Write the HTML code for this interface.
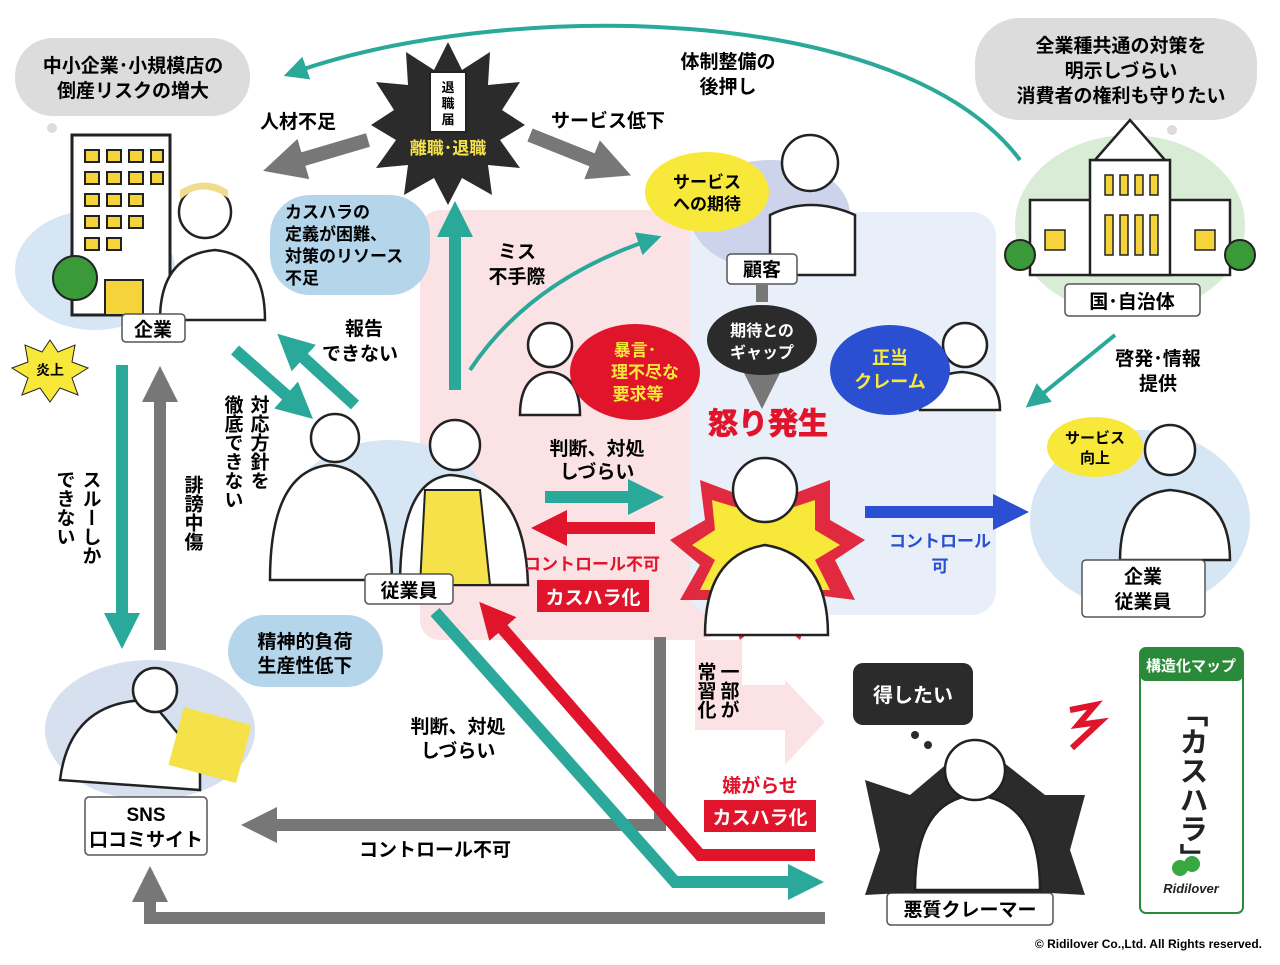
<!DOCTYPE html>
<html><head><meta charset="utf-8"><style>
body{margin:0;background:#fff}
svg text{font-family:"Liberation Sans","Noto Sans CJK JP",sans-serif;font-weight:bold}
</style></head><body>
<svg width="1280" height="960" viewBox="0 0 1280 960" xmlns="http://www.w3.org/2000/svg">
<defs>
<marker id="ag" markerWidth="3" markerHeight="3" refX="1" refY="1.5" orient="auto" markerUnits="strokeWidth"><path d="M0,0L3,1.5L0,3z" fill="#777"/></marker>
<marker id="at" markerWidth="3" markerHeight="3" refX="1" refY="1.5" orient="auto" markerUnits="strokeWidth"><path d="M0,0L3,1.5L0,3z" fill="#2aa89a"/></marker>
<marker id="ar" markerWidth="3" markerHeight="3" refX="1" refY="1.5" orient="auto" markerUnits="strokeWidth"><path d="M0,0L3,1.5L0,3z" fill="#e0142a"/></marker>
<marker id="ab" markerWidth="3" markerHeight="3" refX="1" refY="1.5" orient="auto" markerUnits="strokeWidth"><path d="M0,0L3,1.5L0,3z" fill="#2a4fd0"/></marker>
<marker id="at2" markerWidth="6" markerHeight="6" refX="3" refY="3" orient="auto" markerUnits="strokeWidth"><path d="M0,0L6,3L0,6z" fill="#2aa89a"/></marker>
</defs>
<rect x="420" y="210" width="300" height="430" rx="20" fill="#fbe2e5"/>
<rect x="690" y="212" width="306" height="403" rx="24" fill="#e8eff8"/>
<ellipse cx="95" cy="270" rx="80" ry="60" fill="#d6e6f4"/>
<ellipse cx="390" cy="510" rx="100" ry="70" fill="#d6e6f4"/>
<ellipse cx="150" cy="730" rx="105" ry="70" fill="#d6e0ee"/>
<ellipse cx="1130" cy="225" rx="115" ry="90" fill="#d8ecd6"/>
<ellipse cx="1140" cy="520" rx="110" ry="90" fill="#d6e6f4"/>
<ellipse cx="770" cy="215" rx="80" ry="55" fill="#ccd3ea"/>
<rect x="15" y="38" width="235" height="78" rx="38" fill="#dcdcdc"/>
<text x="133" y="72" font-size="19" text-anchor="middle">中小企業･小規模店の</text>
<text x="133" y="97" font-size="19" text-anchor="middle">倒産リスクの増大</text>
<circle cx="52" cy="128" r="5" fill="#dcdcdc"/>
<rect x="975" y="18" width="282" height="102" rx="45" fill="#dcdcdc"/>
<text x="1121" y="52" font-size="19" text-anchor="middle">全業種共通の対策を</text>
<text x="1121" y="77" font-size="19" text-anchor="middle">明示しづらい</text>
<text x="1121" y="102" font-size="19" text-anchor="middle">消費者の権利も守りたい</text>
<circle cx="1172" cy="130" r="5" fill="#dcdcdc"/>
<rect x="270" y="195" width="160" height="100" rx="40" fill="#b5d5ea"/>
<text x="285" y="218" font-size="17">カスハラの</text>
<text x="285" y="240" font-size="17">定義が困難、</text>
<text x="285" y="262" font-size="17">対策のリソース</text>
<text x="285" y="284" font-size="17">不足</text>
<rect x="228" y="615" width="155" height="72" rx="36" fill="#b5d5ea"/>
<text x="305" y="648" font-size="19" text-anchor="middle">精神的負荷</text>
<text x="305" y="672" font-size="19" text-anchor="middle">生産性低下</text>
<path d="M1020,160 C900,0 500,0 295,72" fill="none" stroke="#2aa89a" stroke-width="4" marker-end="url(#at2)"/>
<text x="728" y="68" font-size="19" text-anchor="middle">体制整備の</text>
<text x="728" y="93" font-size="19" text-anchor="middle">後押し</text>
<polygon points="448,42 462,70 490,52 488,85 520,82 502,110 525,125 500,140 520,168 488,165 492,195 462,178 448,205 434,178 404,195 408,165 376,168 396,140 371,125 394,110 376,82 408,85 406,52 434,70" fill="#2b2b2b"/>
<rect x="430" y="72" width="36" height="60" fill="#fff" stroke="#222" stroke-width="2"/>
<text x="448" y="92" font-size="13" text-anchor="middle">退</text>
<text x="448" y="108" font-size="13" text-anchor="middle">職</text>
<text x="448" y="124" font-size="13" text-anchor="middle">届</text>
<text x="448" y="154" font-size="17" text-anchor="middle" fill="#f5e24a">離職･退職</text>
<line x1="368" y1="140" x2="290" y2="163" stroke="#777" stroke-width="14" marker-end="url(#ag)"/>
<text x="298" y="128" font-size="19" text-anchor="middle">人材不足</text>
<line x1="530" y1="135" x2="605" y2="165" stroke="#777" stroke-width="14" marker-end="url(#ag)"/>
<text x="608" y="127" font-size="19" text-anchor="middle">サービス低下</text>
<rect x="72" y="135" width="98" height="180" fill="#fff" stroke="#222" stroke-width="3"/>
<g fill="#f5d33a" stroke="#222" stroke-width="2">
<rect x="85" y="150" width="14" height="12"/><rect x="107" y="150" width="14" height="12"/><rect x="129" y="150" width="14" height="12"/><rect x="151" y="150" width="12" height="12"/>
<rect x="85" y="172" width="14" height="12"/><rect x="107" y="172" width="14" height="12"/><rect x="129" y="172" width="14" height="12"/><rect x="151" y="172" width="12" height="12"/>
<rect x="85" y="194" width="14" height="12"/><rect x="107" y="194" width="14" height="12"/><rect x="129" y="194" width="14" height="12"/>
<rect x="85" y="216" width="14" height="12"/><rect x="107" y="216" width="14" height="12"/><rect x="129" y="216" width="14" height="12"/>
<rect x="85" y="238" width="14" height="12"/><rect x="107" y="238" width="14" height="12"/>
<rect x="105" y="280" width="38" height="35"/>
</g>
<circle cx="75" cy="278" r="22" fill="#3a9a3a" stroke="#222" stroke-width="2"/>
<g fill="#fff" stroke="#222" stroke-width="2.5">
<path d="M160,320 Q160,255 215,250 Q265,255 265,320 Z"/>
<circle cx="205" cy="212" r="26"/>
<path d="M270,580 Q270,470 330,465 Q390,470 392,580 Z"/>
<circle cx="335" cy="438" r="24"/>
<path d="M400,585 Q400,480 450,475 Q525,480 528,585 Z"/>
<circle cx="455" cy="445" r="25"/>
<path d="M770,275 L770,215 Q810,195 855,215 L855,275 Z"/>
<circle cx="810" cy="163" r="28"/>
<path d="M520,415 Q520,375 550,372 Q580,375 580,415 Z"/>
<circle cx="550" cy="345" r="22"/>
<path d="M920,410 Q920,375 962,372 Q1000,375 1000,410 Z"/>
<circle cx="965" cy="345" r="22"/>
<path d="M1120,560 Q1120,495 1170,490 Q1230,495 1230,560 Z"/>
<circle cx="1170" cy="450" r="25"/>
<path d="M60,780 Q70,700 150,700 L200,760 L200,790 Z"/>
<circle cx="155" cy="690" r="22"/>
</g>
<path d="M180,200 Q200,180 228,198 L228,190 Q205,175 180,190Z" fill="#f0dc8c"/>
<path d="M425,490 L480,490 L490,585 L420,585 Z" fill="#f5e24a" stroke="#222" stroke-width="2"/>
<rect x="175" y="715" width="70" height="60" fill="#f5e24a" transform="rotate(15 210 745)"/>
<rect x="1030" y="200" width="200" height="75" fill="#fff" stroke="#222" stroke-width="2.5"/>
<rect x="1090" y="160" width="80" height="115" fill="#fff" stroke="#222" stroke-width="2.5"/>
<path d="M1095,160 L1130,120 L1165,160Z" fill="#fff" stroke="#222" stroke-width="2.5"/>
<g fill="#f5d33a" stroke="#222" stroke-width="1.5"><rect x="1105" y="175" width="8" height="20"/><rect x="1120" y="175" width="8" height="20"/><rect x="1135" y="175" width="8" height="20"/><rect x="1150" y="175" width="8" height="20"/><rect x="1105" y="215" width="8" height="40"/><rect x="1120" y="215" width="8" height="40"/><rect x="1135" y="215" width="8" height="40"/><rect x="1150" y="215" width="8" height="40"/><rect x="1045" y="230" width="20" height="20"/><rect x="1195" y="230" width="20" height="20"/></g>
<circle cx="1020" cy="255" r="15" fill="#3a9a3a" stroke="#222" stroke-width="2"/>
<circle cx="1240" cy="255" r="15" fill="#3a9a3a" stroke="#222" stroke-width="2"/>
<g fill="#fff" stroke="#555" stroke-width="1.5">
<rect x="122" y="314" width="63" height="28" rx="4"/>
<rect x="365" y="574" width="88" height="30" rx="4"/>
<rect x="727" y="254" width="70" height="30" rx="4"/>
<rect x="1065" y="284" width="135" height="32" rx="4"/>
<rect x="85" y="797" width="122" height="58" rx="4"/>
<rect x="887" y="893" width="166" height="32" rx="4"/>
<rect x="1082" y="560" width="123" height="57" rx="4"/>
</g>
<text x="153" y="336" font-size="19" text-anchor="middle">企業</text>
<text x="409" y="597" font-size="19" text-anchor="middle">従業員</text>
<text x="762" y="276" font-size="19" text-anchor="middle">顧客</text>
<text x="1132" y="308" font-size="19" text-anchor="middle">国･自治体</text>
<text x="146" y="821" font-size="19" text-anchor="middle">SNS</text>
<text x="146" y="846" font-size="19" text-anchor="middle">口コミサイト</text>
<text x="970" y="916" font-size="19" text-anchor="middle">悪質クレーマー</text>
<text x="1143" y="583" font-size="19" text-anchor="middle">企業</text>
<text x="1143" y="608" font-size="19" text-anchor="middle">従業員</text>
<ellipse cx="707" cy="192" rx="62" ry="40" fill="#f8e83a"/>
<text x="707" y="188" font-size="17" text-anchor="middle">サービス</text>
<text x="707" y="210" font-size="17" text-anchor="middle">への期待</text>
<ellipse cx="1095" cy="447" rx="48" ry="30" fill="#f8e83a"/>
<text x="1095" y="443" font-size="15" text-anchor="middle">サービス</text>
<text x="1095" y="463" font-size="15" text-anchor="middle">向上</text>
<ellipse cx="635" cy="372" rx="65" ry="48" fill="#e0142a"/>
<text x="635" y="356" font-size="17" text-anchor="middle" fill="#f8e83a">暴言･</text>
<text x="645" y="378" font-size="17" text-anchor="middle" fill="#f8e83a">理不尽な</text>
<text x="638" y="400" font-size="17" text-anchor="middle" fill="#f8e83a">要求等</text>
<ellipse cx="890" cy="370" rx="60" ry="45" fill="#2a4fd0"/>
<text x="890" y="364" font-size="18" text-anchor="middle" fill="#f8e83a">正当</text>
<text x="890" y="388" font-size="18" text-anchor="middle" fill="#f8e83a">クレーム</text>
<line x1="762" y1="285" x2="762" y2="302" stroke="#777" stroke-width="12"/>
<line x1="762" y1="370" x2="762" y2="385" stroke="#777" stroke-width="12" marker-end="url(#ag)"/>
<ellipse cx="762" cy="340" rx="55" ry="35" fill="#2b2b2b"/>
<text x="762" y="336" font-size="16" text-anchor="middle" fill="#fff">期待との</text>
<text x="762" y="358" font-size="16" text-anchor="middle" fill="#fff">ギャップ</text>
<text x="768" y="434" font-size="30" text-anchor="middle" fill="#e0142a" font-weight="900" stroke="#e0142a" stroke-width="1">怒り発生</text>
<polygon points="765,470 790,495 830,480 830,520 865,540 835,560 855,600 815,595 800,640 770,615 740,640 725,600 680,600 700,565 670,540 705,520 700,480 740,495" fill="#e0142a" opacity="0.9"/>
<polygon points="765,490 785,510 815,500 815,530 840,545 815,560 830,590 800,590 790,620 765,600 740,620 730,590 700,590 715,560 692,545 715,530 712,500 745,510" fill="#f8e83a"/>
<path d="M705,635 Q705,555 765,545 Q828,555 828,635 Z" fill="#fff" stroke="#222" stroke-width="2.5"/>
<circle cx="765" cy="490" r="32" fill="#fff" stroke="#222" stroke-width="2.5"/>
<line x1="455" y1="390" x2="455" y2="225" stroke="#2aa89a" stroke-width="12" marker-end="url(#at)"/>
<text x="517" y="258" font-size="19" text-anchor="middle">ミス</text>
<text x="517" y="283" font-size="19" text-anchor="middle">不手際</text>
<path d="M470,370 Q530,280 650,240" fill="none" stroke="#2aa89a" stroke-width="4" marker-end="url(#at2)"/>
<line x1="235" y1="350" x2="295" y2="403" stroke="#2aa89a" stroke-width="12" marker-end="url(#at)"/>
<line x1="355" y1="405" x2="295" y2="350" stroke="#2aa89a" stroke-width="12" marker-end="url(#at)"/>
<text x="345" y="335" font-size="19">報告</text>
<text x="322" y="360" font-size="19">できない</text>
<text x="258" y="395" font-size="19" writing-mode="tb">対応方針を</text>
<text x="232" y="395" font-size="19" writing-mode="tb">徹底できない</text>
<line x1="122" y1="365" x2="122" y2="625" stroke="#2aa89a" stroke-width="12" marker-end="url(#at)"/>
<line x1="160" y1="650" x2="160" y2="390" stroke="#777" stroke-width="12" marker-end="url(#ag)"/>
<text x="90" y="470" font-size="19" writing-mode="tb">スルーしか</text>
<text x="64" y="470" font-size="19" writing-mode="tb">できない</text>
<text x="192" y="475" font-size="19" writing-mode="tb">誹謗中傷</text>
<line x1="545" y1="497" x2="640" y2="497" stroke="#2aa89a" stroke-width="12" marker-end="url(#at)"/>
<text x="597" y="455" font-size="19" text-anchor="middle">判断、対処</text>
<text x="597" y="478" font-size="19" text-anchor="middle">しづらい</text>
<line x1="655" y1="528" x2="555" y2="528" stroke="#e0142a" stroke-width="12" marker-end="url(#ar)"/>
<text x="592" y="570" font-size="17" text-anchor="middle" fill="#e0142a">コントロール不可</text>
<rect x="537" y="580" width="112" height="32" fill="#e0142a"/>
<text x="593" y="604" font-size="19" text-anchor="middle" fill="#fff">カスハラ化</text>
<line x1="865" y1="512" x2="1005" y2="512" stroke="#2a4fd0" stroke-width="12" marker-end="url(#ab)"/>
<text x="940" y="547" font-size="17" text-anchor="middle" fill="#2a4fd0">コントロール</text>
<text x="940" y="572" font-size="17" text-anchor="middle" fill="#2a4fd0">可</text>
<line x1="1115" y1="335" x2="1035" y2="400" stroke="#2aa89a" stroke-width="4" marker-end="url(#at2)"/>
<text x="1158" y="365" font-size="19" text-anchor="middle">啓発･情報</text>
<text x="1158" y="390" font-size="19" text-anchor="middle">提供</text>
<path d="M695,640 L742,640 L742,685 L785,685 L785,680 L825,722 L785,765 L785,730 L695,730 Z" fill="#fbe2e5"/>
<text x="728" y="662" font-size="19" writing-mode="tb">一部が</text>
<text x="705" y="662" font-size="19" writing-mode="tb">常習化</text>
<path d="M660,637 L660,825 L265,825" fill="none" stroke="#777" stroke-width="12" marker-end="url(#ag)"/>
<text x="435" y="856" font-size="19" text-anchor="middle">コントロール不可</text>
<text x="458" y="733" font-size="19" text-anchor="middle">判断、対処</text>
<text x="458" y="757" font-size="19" text-anchor="middle">しづらい</text>
<path d="M825,918 L150,918 L150,890" fill="none" stroke="#777" stroke-width="12" marker-end="url(#ag)"/>
<path d="M815,855 L700,855 L495,620" fill="none" stroke="#e0142a" stroke-width="12" marker-end="url(#ar)"/>
<path d="M435,612 L675,882 L800,882" fill="none" stroke="#2aa89a" stroke-width="12" marker-end="url(#at)"/>
<text x="760" y="792" font-size="19" text-anchor="middle" fill="#e0142a">嫌がらせ</text>
<rect x="704" y="800" width="112" height="32" fill="#e0142a"/>
<text x="760" y="824" font-size="19" text-anchor="middle" fill="#fff">カスハラ化</text>
<polygon points="865,780 910,795 975,740 1045,795 1085,795 1070,850 1085,895 1050,893 900,893 865,895 880,850" fill="#2b2b2b"/>
<path d="M915,890 Q915,800 975,795 Q1040,800 1040,890 Z" fill="#fff" stroke="#222" stroke-width="2.5"/>
<circle cx="975" cy="770" r="30" fill="#fff" stroke="#222" stroke-width="2.5"/>
<rect x="853" y="663" width="120" height="62" rx="10" fill="#2b2b2b"/>
<text x="913" y="702" font-size="20" text-anchor="middle" fill="#fff">得したい</text>
<circle cx="915" cy="735" r="4" fill="#2b2b2b"/><circle cx="928" cy="745" r="4" fill="#2b2b2b"/>
<path d="M1070,710 L1095,705 L1078,725 L1100,722 L1072,748" fill="none" stroke="#e0142a" stroke-width="6"/>
<polygon points="50,340 58,352 75,345 72,362 88,368 72,378 78,395 60,388 50,402 40,388 22,395 28,378 12,368 28,362 25,345 42,352" fill="#f8e83a" stroke="#222" stroke-width="1"/>
<text x="50" y="375" font-size="14" text-anchor="middle">炎上</text>
<rect x="1140" y="648" width="103" height="265" rx="6" fill="#fff" stroke="#2a8a3a" stroke-width="2"/>
<rect x="1140" y="648" width="103" height="33" rx="6" fill="#2a8a3a"/>
<text x="1191" y="671" font-size="15" text-anchor="middle" fill="#fff">構造化マップ</text>
<text x="1191" y="698" font-size="29" writing-mode="tb" fill="#222">「カスハラ」</text>
<text x="1191" y="893" font-size="13" text-anchor="middle" fill="#222" font-style="italic">Ridilover</text>
<circle cx="1180" cy="868" r="8" fill="#3aa840"/><circle cx="1192" cy="864" r="8" fill="#3aa840"/>
<text x="1262" y="948" font-size="12" text-anchor="end">© Ridilover Co.,Ltd. All Rights reserved.</text>
</svg>
</body></html>
